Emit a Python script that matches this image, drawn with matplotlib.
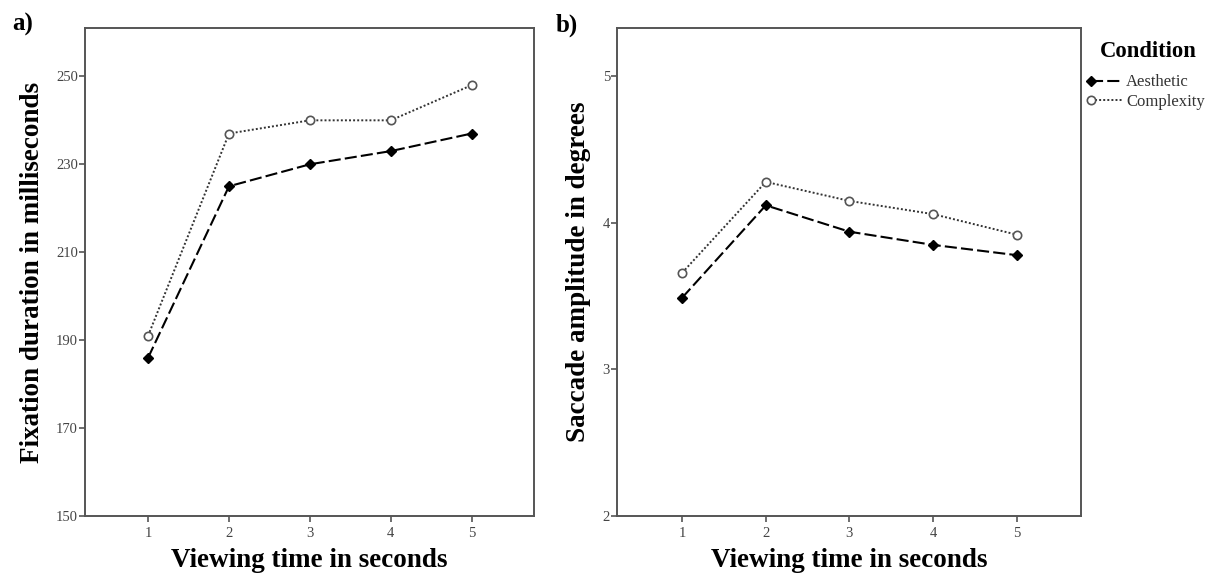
import matplotlib
matplotlib.use("Agg")
import matplotlib.pyplot as plt
from matplotlib.legend_handler import HandlerLine2D

plt.rcParams['font.family'] = ['Liberation Serif', 'DejaVu Serif']

## data
seconds = [1, 2, 3, 4, 5]
fix_aesthetic = [186, 225, 230, 233, 237]
fix_complexity = [191, 237, 240, 240, 248]
sac_aesthetic = [3.49, 4.12, 3.94, 3.85, 3.78]
sac_complexity = [3.66, 4.28, 4.15, 4.06, 3.92]
fix_ticks = [150, 170, 190, 210, 230, 250]
sac_ticks = [2, 3, 4, 5]
conditions = ['Aesthetic', 'Complexity']


class LeftMarker(HandlerLine2D):
    # put the legend marker at the left end of the line, like SPSS does
    def create_artists(self, *args, **kwargs):
        arts = super().create_artists(*args, **kwargs)
        for a in arts:
            a.set_markevery([0])
        return arts


def style_axis(ax, ticks, ylim):
    ax.set_xlim(0.22, 5.77)
    ax.set_ylim(*ylim)
    ax.set_xticks(seconds)
    ax.set_yticks(ticks)
    for s in ax.spines.values():
        s.set_color('#555555')
        s.set_linewidth(1.4)
    ax.tick_params(axis='both', direction='out', length=4.5, width=1.2,
                   color='#555555', labelsize=10.5, labelcolor='#444444')
    ax.tick_params(axis='x', pad=3.5)
    ax.tick_params(axis='y', pad=0.5)
    ax.tick_params(top=False, right=False)


def draw(ax, aes, comp):
    ax.plot(seconds, aes, color='black', lw=1.5, dashes=(5.8, 2.0),
            marker='D', ms=5.5, mfc='black', mec='black', label=conditions[0])
    ax.plot(seconds, comp, color='#333333', lw=1.4, ls=(0, (1.0, 1.1)),
            marker='o', ms=6, mfc='white', mec='#555555', mew=1.2,
            label=conditions[1])


fig = plt.figure(figsize=(12.15, 5.78), dpi=100)
ax1 = fig.add_axes([85 / 1215, 1 - 516 / 578, 449 / 1215, 488 / 578])
ax2 = fig.add_axes([617 / 1215, 1 - 516 / 578, 464 / 1215, 488 / 578])

draw(ax1, fix_aesthetic, fix_complexity)
style_axis(ax1, fix_ticks, (150, 261))
draw(ax2, sac_aesthetic, sac_complexity)
style_axis(ax2, sac_ticks, (2, 5.33))

for ax, lab, lx in [(ax1, 'Fixation duration in milliseconds', -0.116),
                    (ax2, 'Saccade amplitude in degrees', -0.082)]:
    ax.set_ylabel(lab, fontsize=19.5, fontweight='bold')
    ax.yaxis.label.set_va('center')
    ax.yaxis.set_label_coords(lx, 0.5)
    ax.set_xlabel('Viewing time in seconds', fontsize=19.5, fontweight='bold')
    ax.xaxis.label.set_va('center')
    ax.xaxis.set_label_coords(0.5, -0.092)

fig.text(12 / 1215, 1 - 24 / 578, 'a)', fontsize=18, fontweight='bold', va='center')
fig.text(556 / 1215, 1 - 25 / 578, 'b)', fontsize=18, fontweight='bold', va='center')

h, l = ax2.get_legend_handles_labels()
leg = fig.legend(h, l, loc='upper left', bbox_to_anchor=(1076 / 1215, 1 - 26 / 578),
                 frameon=False, title='Condition', fontsize=12,
                 title_fontproperties={'weight': 'bold', 'size': 16.3},
                 handlelength=1.9, handletextpad=0.2, labelspacing=0.2,
                 numpoints=1, handler_map={matplotlib.lines.Line2D: LeftMarker()})
leg._legend_box.sep = 9  # more room under the title
for t in leg.get_texts():
    t.set_color('#333333')

fig.savefig('out.png', dpi=100)
